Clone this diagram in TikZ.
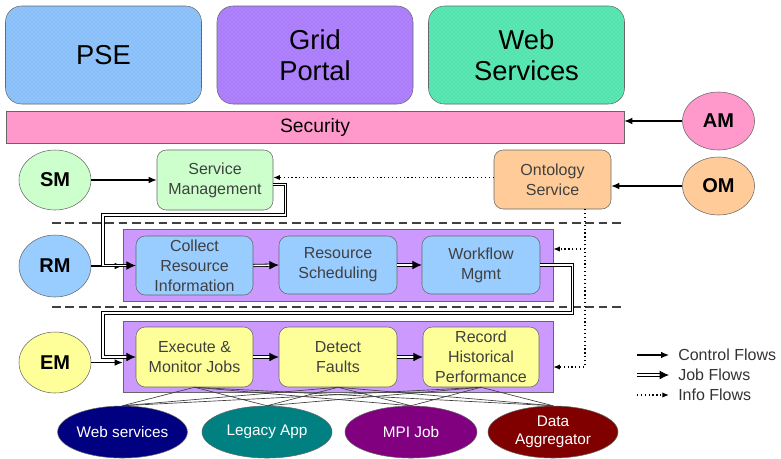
\documentclass[tikz,border=0pt]{standalone}
\usepackage{fontspec}
\setmainfont{Liberation Sans}
\usetikzlibrary{shapes.geometric,arrows.meta,patterns}

\newlength\pxu
\setlength\pxu{0.75pt}

\definecolor{pseblue}{RGB}{143,198,255}
\definecolor{portalviolet}{RGB}{176,130,255}
\definecolor{wsgreen}{RGB}{90,234,182}
\definecolor{secpink}{RGB}{255,153,204}
\definecolor{ontorange}{RGB}{255,204,153}
\definecolor{svcgreen}{RGB}{204,255,204}
\definecolor{rmblue}{RGB}{153,204,255}
\definecolor{emyellow}{RGB}{255,255,153}
\definecolor{lilac}{RGB}{204,153,255}
\definecolor{mpipurple}{RGB}{128,0,128}
\definecolor{aggred}{RGB}{128,0,0}
\definecolor{wsnavy}{RGB}{0,0,128}

\begin{document}
\begin{tikzpicture}[x=0.75pt, y=-0.75pt,
    toolbox/.style = {draw = black!60, rounded corners = 12pt, inner sep = 0pt, align = center,
        minimum width = 196\pxu, minimum height = 98\pxu, font = \fontsize{20.5}{23.5}\selectfont},
    mgr/.style = {ellipse, draw = black!60, inner sep = 0pt, minimum width = 72\pxu,
        minimum height = 60\pxu, font = \fontsize{15}{18}\selectfont\bfseries},
    task/.style = {draw = black!60, rounded corners = 7pt, inner sep = 0pt, align = center, text = black!75,
        minimum width = 117\pxu, minimum height = 59\pxu, font = \fontsize{12}{15}\selectfont},
    tierbox/.style = {draw = black!60, fill = lilac, inner sep = 0pt, minimum width = 430\pxu},
    app/.style = {ellipse, draw = black!60, text = white, inner sep = 0pt, align = center,
        minimum width = 130\pxu, minimum height = 52\pxu, font = \fontsize{11.5}{13.5}\selectfont},
    ctrl/.style = {-{Latex[length=6pt, width=5pt]}, line width = 0.9pt},
    job/.style = {double, double distance = 1.1pt, line width = 0.6pt, -{Latex[length=7pt, width=6.5pt]}},
    info/.style = {dotted, line width = 0.9pt, -{Latex[length=5pt, width=4pt]}},
    tierline/.style = {dash pattern = on 6.5pt off 3.5pt, line width = 1.1pt, black!75}]
%\draw [help lines, step = 20] (0,0) grid (781,458);
    \useasboundingbox (0,0) rectangle (781,458);

    % front ends
    \node [toolbox, fill = pseblue, postaction = {pattern = crosshatch dots, pattern color = pseblue!80!black}] (pse) at (103.5,55) {PSE};
    \node [toolbox, fill = portalviolet, postaction = {pattern = crosshatch dots, pattern color = portalviolet!85!black}] (portal) at (315,55) {Grid\\Portal};
    \node [toolbox, fill = wsgreen, postaction = {pattern = crosshatch dots, pattern color = wsgreen!80!black}] (websvc) at (526.5,55) {Web\\Services};
    \node [draw = black!60, fill = secpink, minimum width = 618\pxu, minimum height = 32\pxu,
        font = \fontsize{14.5}{17}\selectfont] (sec) at (315,127) {Security};

    % managers
    \node [mgr, fill = secpink, minimum height = 58\pxu] (am) at (718.5,121) {AM};
    \node [mgr, fill = ontorange, minimum height = 58\pxu] (om) at (718.5,186) {OM};
    \node [mgr, fill = svcgreen] (sm) at (55,180) {SM};
    \node [mgr, fill = rmblue, minimum height = 62\pxu] (rm) at (55,266) {RM};
    \node [mgr, fill = emyellow, minimum height = 61\pxu] (em) at (55,362.5) {EM};

    \node [task, fill = svcgreen, minimum width = 116\pxu, minimum height = 60\pxu] (svc) at (215,180) {Service\\Management};
    \node [task, fill = ontorange] (onto) at (552.5,179.5) {Ontology\\Service};

    \draw [tierline] (52,223) -- (624,223);
    \draw [tierline] (52,307) -- (624,307);

    % resource tier
    \node [tierbox, minimum height = 72\pxu] (rmbox) at (338,265) {};
    \node [task, fill = rmblue] (collect) at (194.5,265.5) {Collect\\Resource\\Information};
    \node [task, fill = rmblue, minimum width = 118\pxu, minimum height = 58\pxu] (sched) at (338,265) {Resource\\Scheduling};
    \node [task, fill = rmblue, minimum width = 118\pxu, minimum height = 58\pxu] (wf) at (481,265) {Workflow\\Mgmt};

    % execution tier
    \node [tierbox, minimum height = 71\pxu] (embox) at (338,356.5) {};
    \node [task, fill = emyellow, minimum height = 60\pxu] (exec) at (194.5,357) {Execute \&\\Monitor Jobs};
    \node [task, fill = emyellow, minimum width = 118\pxu, minimum height = 60\pxu] (detect) at (338,357) {Detect\\Faults};
    \node [task, fill = emyellow, minimum width = 116\pxu, minimum height = 60\pxu] (record) at (481,357) {Record\\Historical\\Performance};

    % applications
    \node [app, fill = wsnavy, minimum width = 129\pxu] (ws) at (122.5,432) {Web services};
    \node [app, fill = teal] (legacy) at (267,432) {Legacy App};
    \node [app, fill = mpipurple, minimum width = 132\pxu] (mpi) at (411,432) {MPI Job};
    \node [app, fill = aggred] (agg) at (553,432) {Data\\Aggregator};

    \foreach \b in {exec, detect, record}
        \foreach \e in {ws, legacy, mpi, agg}
            \draw [line width = 0.5pt, black!75] (\b.south) -- (\e.north);

    % control flows
    \draw [ctrl] (am.west) -- (am.west -| sec.east);
    \draw [ctrl] (om.west) -- (om.west -| onto.east);
    \draw [ctrl] (sm.east) -- (svc.west);
    \draw [ctrl] (rm.east) -- (rm.east -| rmbox.west);
    \draw [ctrl] (em.east) -- (em.east -| embox.west);

    % job flows
    \coordinate (ja) at (103,215);
    \coordinate (jb) at (103,313);
    \draw [job] ([yshift = -3.5pt]svc.east) -- ++(12,0) |- (ja) |- (collect.west);
    \draw [job] (collect.east) -- (sched.west);
    \draw [job] (sched.east) -- (wf.west);
    \draw [job] (wf.east) -- ++(32,0) |- (jb) |- (exec.west);
    \draw [job] (exec.east) -- (detect.west);
    \draw [job] (detect.east) -- (record.west);

    % info flows
    \coordinate (ia) at (585,249);
    \coordinate (ib) at (585,367);
    \draw [info] ([yshift = 1.5pt]onto.west) -- ([yshift = 1.5pt]onto.west -| svc.east);
    \draw [info] (onto.south -| ia) -- (ib) -- (ib -| embox.east);
    \draw [info] (ia) -- (ia -| rmbox.east);

    % legend
    \begin{scope}[every node/.style = {anchor = west, inner sep = 0pt, text = black!80, font = \fontsize{12}{14}\selectfont}]
        \node (lgc) at (678,355) {Control Flows};
        \node (lgj) at (678,375) {Job Flows};
        \node (lgi) at (678,395) {Info Flows};
    \end{scope}
    \draw [ctrl] ([xshift = -41\pxu]lgc.west) -- ([xshift = -9\pxu]lgc.west);
    \draw [job] ([xshift = -41\pxu]lgj.west) -- ([xshift = -9\pxu]lgj.west);
    \draw [info] ([xshift = -41\pxu]lgi.west) -- ([xshift = -9\pxu]lgi.west);
\end{tikzpicture}
\end{document}
